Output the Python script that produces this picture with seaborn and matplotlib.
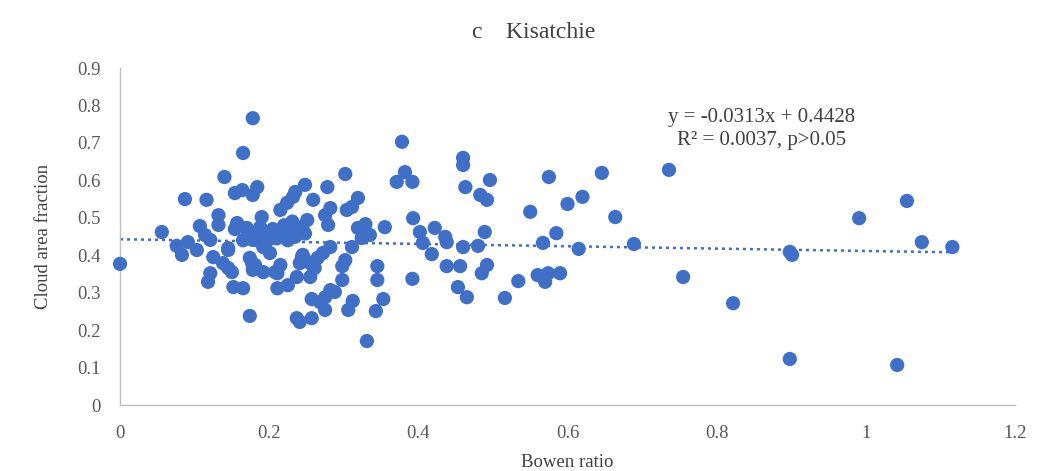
import matplotlib
matplotlib.use("Agg")
import matplotlib.pyplot as plt
import seaborn as sns
import numpy as np
import pandas as pd

bowen_ratio = [
    0.000, 0.056, 0.087, 0.116, 0.140, 0.165, 0.178, 0.154, 0.164, 0.184,
    0.178, 0.132, 0.107, 0.132, 0.157, 0.076, 0.091, 0.103, 0.083, 0.121,
    0.114, 0.145, 0.170, 0.178, 0.125, 0.138, 0.150, 0.121, 0.118, 0.177,
    0.178, 0.192, 0.211, 0.152, 0.165, 0.174, 0.211, 0.225, 0.237, 0.215,
    0.224, 0.232, 0.190, 0.188, 0.184, 0.170, 0.192, 0.201, 0.205, 0.215,
    0.220, 0.228, 0.235, 0.210, 0.225, 0.240, 0.198, 0.231, 0.378, 0.460,
    0.460, 0.382, 0.371, 0.392, 0.463, 0.483, 0.492, 0.496, 0.302, 0.248,
    0.235, 0.278, 0.259, 0.319, 0.311, 0.304, 0.282, 0.275, 0.279, 0.251,
    0.244, 0.237, 0.232, 0.329, 0.319, 0.335, 0.324, 0.355, 0.393, 0.402,
    0.406, 0.422, 0.436, 0.438, 0.460, 0.480, 0.489, 0.311, 0.282, 0.272,
    0.265, 0.245, 0.241, 0.302, 0.298, 0.261, 0.255, 0.237, 0.345, 0.345,
    0.392, 0.418, 0.438, 0.456, 0.485, 0.492, 0.298, 0.282, 0.288, 0.275,
    0.257, 0.275, 0.312, 0.306, 0.353, 0.343, 0.257, 0.331, 0.453, 0.465,
    0.575, 0.646, 0.736, 0.550, 0.600, 0.620, 0.664, 0.585, 0.567, 0.615,
    0.689, 0.534, 0.516, 0.560, 0.574, 0.590, 0.570, 1.055, 0.991, 1.075,
    1.116, 0.898, 0.901, 0.755, 0.822, 0.898, 1.042, 0.154, 0.172, 0.190,
    0.248, 0.165, 0.184, 0.145, 0.174, 0.181, 0.208, 0.215, 0.244, 0.252,
    0.259, 0.241, 0.268, 0.145,
]
cloud_fraction = [
    0.377, 0.462, 0.550, 0.548, 0.609, 0.673, 0.766, 0.566, 0.574, 0.582,
    0.561, 0.507, 0.478, 0.481, 0.486, 0.425, 0.435, 0.414, 0.401, 0.441,
    0.454, 0.419, 0.449, 0.441, 0.395, 0.379, 0.355, 0.352, 0.329, 0.379,
    0.361, 0.355, 0.352, 0.315, 0.312, 0.238, 0.312, 0.320, 0.232, 0.521,
    0.540, 0.556, 0.502, 0.475, 0.459, 0.473, 0.422, 0.406, 0.470, 0.460,
    0.480, 0.465, 0.450, 0.445, 0.440, 0.470, 0.440, 0.490, 0.703, 0.660,
    0.641, 0.622, 0.596, 0.596, 0.582, 0.561, 0.548, 0.601, 0.617, 0.588,
    0.569, 0.582, 0.548, 0.553, 0.529, 0.521, 0.526, 0.507, 0.481, 0.494,
    0.475, 0.462, 0.449, 0.483, 0.473, 0.454, 0.446, 0.475, 0.499, 0.462,
    0.433, 0.473, 0.449, 0.435, 0.422, 0.425, 0.462, 0.422, 0.422, 0.406,
    0.393, 0.401, 0.379, 0.387, 0.371, 0.366, 0.342, 0.342, 0.371, 0.334,
    0.337, 0.403, 0.371, 0.371, 0.352, 0.374, 0.334, 0.307, 0.302, 0.288,
    0.283, 0.254, 0.278, 0.254, 0.283, 0.251, 0.232, 0.171, 0.315, 0.288,
    0.609, 0.620, 0.628, 0.516, 0.537, 0.556, 0.502, 0.459, 0.433, 0.417,
    0.430, 0.331, 0.286, 0.347, 0.352, 0.352, 0.329, 0.545, 0.499, 0.435,
    0.422, 0.409, 0.401, 0.342, 0.272, 0.123, 0.107, 0.470, 0.465, 0.468,
    0.458, 0.440, 0.440, 0.414, 0.393, 0.374, 0.355, 0.374, 0.395, 0.382,
    0.369, 0.222, 0.275, 0.366,
]

trend_slope = -0.0313
trend_intercept = 0.4428
x_ticks = [0, 0.2, 0.4, 0.6, 0.8, 1, 1.2]
x_tick_labels = ["0", "0.2", "0.4", "0.6", "0.8", "1", "1.2"]
y_ticks = [0, 0.1, 0.2, 0.3, 0.4, 0.5, 0.6, 0.7, 0.8, 0.9]
y_tick_labels = ["0", "0.1", "0.2", "0.3", "0.4", "0.5", "0.6", "0.7", "0.8", "0.9"]

df = pd.DataFrame({"Bowen ratio": bowen_ratio, "Cloud area fraction": cloud_fraction})

sns.set_theme(style="white")
plt.rcParams["font.family"] = ["Liberation Serif", "DejaVu Serif"]

fig = plt.figure(figsize=(10.4, 4.71), dpi=100)
ax = fig.add_axes([0.1154, 0.14, 0.8606, 0.7156])

blue = "#3F6FC6"
sns.scatterplot(data=df, x="Bowen ratio", y="Cloud area fraction", ax=ax,
                color=blue, s=105, edgecolor="none", zorder=3, clip_on=False)

x_line = np.array([0.0, max(bowen_ratio)])
trend_df = pd.DataFrame({"x": x_line, "y": trend_slope * x_line + trend_intercept})
sns.lineplot(data=trend_df, x="x", y="y", ax=ax, color=blue,
             linestyle=(0, (1.2, 1.6)), linewidth=1.8, zorder=2)

ax.set_xlim(0, 1.2)
ax.set_ylim(0, 0.9)
ax.set_xticks(x_ticks)
ax.set_xticklabels(x_tick_labels)
ax.set_yticks(y_ticks)
ax.set_yticklabels(y_tick_labels)

for side in ["top", "right"]:
    ax.spines[side].set_visible(False)
for side in ["left", "bottom"]:
    ax.spines[side].set_color("#BFBFBF")
    ax.spines[side].set_linewidth(1.0)

ax.tick_params(axis="both", direction="in", length=5, width=1.0, color="#BFBFBF",
               labelsize=13.5, labelcolor="#595959")
ax.tick_params(axis="x", pad=14)
ax.tick_params(axis="y", pad=14)

ax.set_xlabel("Bowen ratio", fontsize=13.5, color="#404040", labelpad=9)
ax.set_ylabel("Cloud area fraction", fontsize=13.5, color="#404040", labelpad=18)

ax.text(0.717, 0.852, "y = -0.0313x + 0.4428", transform=ax.transAxes,
        ha="center", va="center", fontsize=15, color="#404040")
ax.text(0.717, 0.786, "R² = 0.0037, p>0.05", transform=ax.transAxes,
        ha="center", va="center", fontsize=15, color="#404040")

fig.text(0.513, 0.93, "c    Kisatchie", ha="center", va="center",
         fontsize=17, color="#404040")

fig.savefig("out.png", dpi=100)
